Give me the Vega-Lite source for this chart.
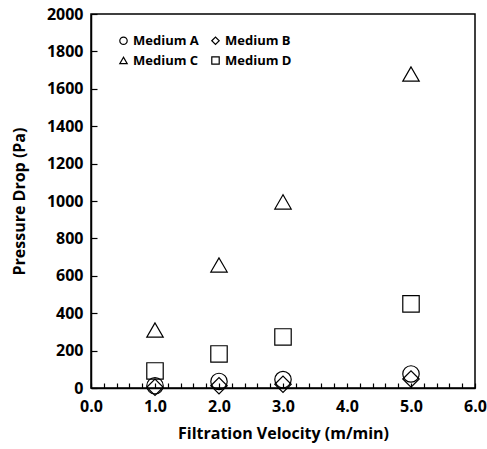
{
  "$schema": "https://vega.github.io/schema/vega-lite/v6.json",
  "width": 384,
  "height": 374,
  "autosize": "none",
  "padding": {"left": 91, "top": 14, "right": 12, "bottom": 61},
  "background": "white",
  "config": {
    "view": {"stroke": "black", "strokeWidth": 1.5},
    "font": "Open Sans",
    "axis": {
      "grid": false,
      "domainColor": "black",
      "domainWidth": 1.5,
      "tickColor": "black",
      "tickWidth": 1.2,
      "labelColor": "black",
      "titleColor": "black",
      "labelFont": "Open Sans",
      "titleFont": "Open Sans",
      "labelFontSize": 16,
      "labelFontWeight": "bold",
      "titleFontSize": 16,
      "titleFontWeight": "bold"
    }
  },
  "data": {
    "values": [
      {"v": 1.0, "p": 12, "medium": "Medium A"},
      {"v": 2.0, "p": 35, "medium": "Medium A"},
      {"v": 3.0, "p": 45, "medium": "Medium A"},
      {"v": 5.0, "p": 75, "medium": "Medium A"},
      {"v": 1.0, "p": 4, "medium": "Medium B"},
      {"v": 2.0, "p": 12, "medium": "Medium B"},
      {"v": 3.0, "p": 20, "medium": "Medium B"},
      {"v": 5.0, "p": 48, "medium": "Medium B"},
      {"v": 1.0, "p": 310, "medium": "Medium C"},
      {"v": 2.0, "p": 658, "medium": "Medium C"},
      {"v": 3.0, "p": 995, "medium": "Medium C"},
      {"v": 5.0, "p": 1679, "medium": "Medium C"},
      {"v": 1.0, "p": 91, "medium": "Medium D"},
      {"v": 2.0, "p": 182, "medium": "Medium D"},
      {"v": 3.0, "p": 273, "medium": "Medium D"},
      {"v": 5.0, "p": 450, "medium": "Medium D"}
    ]
  },
  "mark": {"type": "point", "filled": false, "color": "black", "strokeWidth": 1.2, "opacity": 1, "size": 270},
  "encoding": {
    "x": {
      "field": "v", "type": "quantitative", "title": "Filtration Velocity (m/min)",
      "scale": {"domain": [0, 6], "nice": false, "zero": false},
      "axis": {
        "values": [0,0.2,0.4,0.6,0.8,1,1.2,1.4,1.6,1.8,2,2.2,2.4,2.6,2.8,3,3.2,3.4,3.6,3.8,4,4.2,4.4,4.6,4.8,5,5.2,5.4,5.6,5.8,6],
        "labelExpr": "abs(datum.value - round(datum.value)) < 0.01 ? format(datum.value, '.1f') : ''",
        "tickSize": -5,
        "labelPadding": 15,
        "labelFlush": false,
        "labelOverlap": false,
        "titlePadding": 11
      }
    },
    "y": {
      "field": "p", "type": "quantitative", "title": "Pressure Drop (Pa)",
      "scale": {"domain": [0, 2000], "nice": false},
      "axis": {
        "values": [0,200,400,600,800,1000,1200,1400,1600,1800,2000],
        "format": "d",
        "tickSize": -6,
        "labelPadding": 14,
        "labelFlush": false,
        "labelOverlap": false,
        "titlePadding": 19
      }
    },
    "shape": {
      "field": "medium", "type": "nominal",
      "scale": {"domain": ["Medium A", "Medium B", "Medium C", "Medium D"], "range": ["circle", "diamond", "triangle-up", "square"]},
      "legend": {
        "title": null,
        "orient": "none",
        "direction": "horizontal",
        "legendX": 26,
        "legendY": 20,
        "columns": 2,
        "columnPadding": 10,
        "rowPadding": 6,
        "symbolSize": 55,
        "symbolStrokeColor": "black",
        "symbolStrokeWidth": 1.2,
        "symbolFillColor": "transparent",
        "labelFont": "Open Sans",
        "labelFontSize": 13,
        "labelFontWeight": "bold",
        "labelColor": "black",
        "labelOffset": 3,
        "padding": 0
      }
    }
  }
}
